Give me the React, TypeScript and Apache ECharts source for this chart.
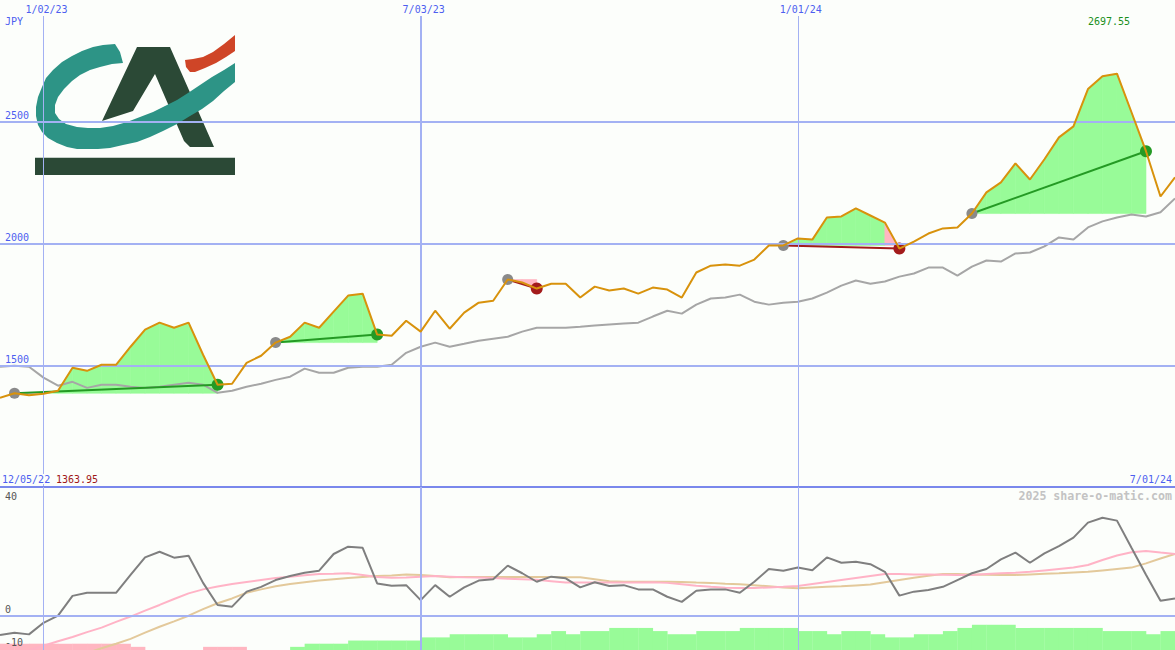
import React, { useEffect, useRef } from "react";
import * as echarts from "echarts";

// ---- axis ranges (weeks relative to 1/02/23) ----
const X_MIN = -3;
const X_MAX = 78;
const PRICE_MIN = 1000;
const PRICE_MAX = 3000;
const OSC_MIN = -12.12;
const OSC_MAX = 45.48;
const BAR_MAX = 51.7;

// ---- labels ----
const dateLabels = ["1/02/23", "7/03/23", "1/01/24"];
const dateWeeks = [0, 26, 52];
const firstDateLabel = "12/05/22";
const lastDateLabel = "7/01/24";
const currencyLabel = "JPY";
const priceTicks = [2500, 2000, 1500];
const oscTicks = [40, 0, -10];
const lowLabel = "1363.95";
const highLabel = "2697.55";
const creditLabel = "2025 share-o-matic.com";

// ---- weekly series, first value at week X_MIN ----
const price = [
  1366, 1385, 1377,
  1383, 1395, 1490, 1477, 1502, 1502, 1576, 1646, 1675, 1654,
  1675, 1543, 1420, 1424, 1510, 1539, 1593, 1617, 1675, 1654,
  1720, 1786, 1794, 1626, 1621, 1683, 1638, 1724, 1650, 1716,
  1757, 1765, 1852, 1840, 1815, 1835, 1835, 1778, 1823, 1807,
  1815, 1794, 1819, 1811, 1778, 1881, 1909, 1914, 1909, 1934,
  1992, 1992, 2021, 2016, 2107, 2111, 2144, 2115, 2086, 1979,
  2008, 2041, 2062, 2066, 2123, 2210, 2251, 2329, 2263, 2346,
  2436, 2481, 2634, 2687, 2697.55, 2539, 2379, 2193, 2272,
];
const benchmark = [
  1494, 1498, 1494,
  1449, 1416, 1432, 1407, 1420, 1420, 1412, 1407, 1412, 1420,
  1428, 1420, 1387, 1395, 1412, 1424, 1440, 1453, 1486, 1469,
  1469, 1490, 1494, 1494, 1502, 1551, 1576, 1593, 1576, 1588,
  1601, 1609, 1617, 1638, 1654, 1654, 1654, 1658, 1663, 1667,
  1671, 1675, 1700, 1724, 1712, 1749, 1774, 1778, 1790, 1761,
  1749, 1757, 1761, 1774, 1798, 1827, 1848, 1835, 1844, 1864,
  1877, 1901, 1901, 1868, 1905, 1930, 1926, 1959, 1963, 1988,
  2025, 2016, 2066, 2091, 2107, 2119, 2111, 2128, 2185,
];
const oscillator = [
  -6.8, -6.0, -6.6,
  -2.5, 0, 7.0, 8.1, 8.1, 8.1, 14.4, 20.6, 22.6, 20.5,
  21.2, 11.6, 3.8, 3.2, 8.5, 10.2, 12.6, 14.0, 15.2, 15.9,
  21.8, 24.4, 24.0, 11.4, 10.6, 10.8, 5.5, 10.8, 6.7, 10.0,
  12.4, 12.9, 17.7, 15.0, 12.0, 13.8, 13.2, 10.0, 11.8, 10.5,
  10.8, 9.3, 9.3, 6.7, 4.9, 8.8, 9.3, 9.3, 8.1, 12.0,
  16.5, 15.9, 17.0, 16.1, 20.6, 18.7, 19.1, 18.2, 15.5, 7.1,
  8.5, 9.1, 10.2, 12.6, 15.0, 16.5, 19.9, 22.3, 18.7, 22.0,
  24.6, 27.6, 32.9, 34.6, 33.6, 24.0, 14.5, 5.3, 6.1,
];
const oscFast = [
  -15.3, -14.0, -12.3,
  -10.6, -9.0, -7.5, -5.8, -4.2, -2.2, -0.3, 1.8, 3.8, 5.9,
  7.9, 9.3, 10.3, 11.2, 11.9, 12.6, 13.3, 13.8, 14.3, 14.7,
  14.8, 15.0, 14.4, 13.7, 13.4, 13.5, 13.8, 14.0, 13.8, 13.6,
  13.5, 13.3, 13.1, 12.9, 12.7, 12.2, 11.7, 11.7, 11.7, 11.7,
  11.7, 11.7, 11.8, 11.6, 11.1, 10.6, 10.2, 9.9, 9.8, 9.8,
  10.0, 10.2, 10.5, 11.2, 11.9, 12.6, 13.3, 14.0, 14.7, 14.7,
  14.6, 14.6, 14.5, 14.4, 14.4, 14.7, 15.0, 15.2, 15.5, 16.0,
  16.5, 17.0, 17.9, 19.7, 21.3, 22.4, 22.9, 22.3, 21.8,
];
const oscSlow = [
  -23.5, -21.8, -20.1,
  -18.4, -16.7, -14.9, -13.2, -11.5, -9.9, -8.2, -6.0, -3.9, -2.0,
  0.0, 2.3, 4.4, 6.1, 8.1, 9.3, 10.4, 11.2, 11.8, 12.4,
  12.9, 13.3, 13.7, 14.0, 14.2, 14.6, 14.4, 14.0, 13.6, 13.7,
  13.7, 13.7, 13.7, 13.7, 13.7, 13.7, 13.6, 13.6, 12.9, 12.2,
  12.0, 12.0, 12.0, 12.0, 11.9, 11.7, 11.6, 11.3, 11.1, 10.8,
  10.4, 10.0, 9.7, 10.0, 10.2, 10.4, 10.7, 11.0, 11.8, 12.6,
  13.4, 14.1, 14.7, 14.7, 14.6, 14.5, 14.4, 14.4, 14.6, 14.8,
  15.0, 15.3, 15.5, 16.0, 16.5, 17.0, 18.5, 20.2, 21.8,
];
// one level per week interval [w, w+1], first at X_MIN; negative = pink
const barLevels = [
  -2, -2, -2, -2, -2, -2, -2, -2, -2,
  -1, 0, 0, 0, 0, -1, -1, -1, 0, 0, 0,
  1, 2, 2, 2, 3, 3, 3, 3, 3, 4, 4, 5, 5, 5, 5, 4, 4,
  5, 6, 5, 6, 6, 7, 7, 7, 6, 5, 5, 6, 6, 6, 7, 7, 7, 7,
  6, 6, 5, 6, 6, 5, 4, 4, 5, 5, 6, 7, 8, 8, 8,
  7, 7, 7, 7, 7, 7, 6, 6, 6, 5, 6,
];
const tradeEntryWeeks = [-2, 16, 32, 51, 64];
const tradeExitWeeks = [12, 23, 34, 59, 76];

// ---- colours ----
const BG = "#fcfefb";
const GRID = "#a3b1f3";
const SEP = "#7a88ec";
const BLUE = "#4d5ef0";
const ORANGE = "#d8920c";
const BENCH = "#a6a6a6";
const OSC = "#7f7f7f";
const FAST = "#ffb3c6";
const SLOW = "#e3c99b";
const GAIN_FILL = "#98fb98";
const LOSS_FILL = "#ffb6c1";
const GAIN = "#249a24";
const LOSS = "#a31b1b";
const ENTRY = "#8a8a8a";
const FONT = '"DejaVu Sans Mono", monospace';

const MAIN_H = 487;
const TOTAL_H = 650;

const pts = (arr: number[]) => arr.map((v, i) => [X_MIN + i, v]);
const priceAt = (w: number) => price[w - X_MIN];

function buildOption(): any {
  const fillData: number[][] = [];
  tradeEntryWeeks.forEach((we, t) => {
    const wx = tradeExitWeeks[t];
    const lvl = priceAt(we);
    for (let w = we; w < wx; w++) {
      const p1 = priceAt(w + 1);
      fillData.push([w, priceAt(w), p1, lvl, p1 >= lvl ? 1 : 0]);
    }
  });
  const tradeData = tradeEntryWeeks.map((we, t) => {
    const wx = tradeExitWeeks[t];
    return [we, priceAt(we), wx, priceAt(wx), priceAt(wx) >= priceAt(we) ? 1 : 0];
  });
  const topVal = PRICE_MAX - (16 * (PRICE_MAX - PRICE_MIN)) / MAIN_H;

  const mainLines: any[] = [];
  priceTicks.forEach((v) => {
    const ls = { color: GRID, width: 2, type: "solid" };
    mainLines.push([{ coord: [X_MIN, v], lineStyle: ls }, { coord: [X_MAX, v], lineStyle: ls }]);
  });
  dateWeeks.forEach((w, i) => {
    const ls = { color: GRID, width: i === 1 ? 2 : 1, type: "solid" };
    mainLines.push([{ coord: [w, topVal], lineStyle: ls }, { coord: [w, PRICE_MIN], lineStyle: ls }]);
  });
  const sepLs = { color: SEP, width: 2, type: "solid" };
  mainLines.push([{ coord: [X_MIN, PRICE_MIN], lineStyle: sepLs }, { coord: [X_MAX, PRICE_MIN], lineStyle: sepLs }]);

  const lowerLines: any[] = [];
  const zeroLs = { color: GRID, width: 2, type: "solid" };
  lowerLines.push([{ coord: [X_MIN, 0], lineStyle: zeroLs }, { coord: [X_MAX, 0], lineStyle: zeroLs }]);
  dateWeeks.forEach((w, i) => {
    const ls = { color: GRID, width: i === 1 ? 2 : 1, type: "solid" };
    lowerLines.push([{ coord: [w, OSC_MIN], lineStyle: ls }, { coord: [w, OSC_MAX], lineStyle: ls }]);
  });

  const lineSeries = (name: string, data: number[], color: string, grid: number, z: number) => ({
    name,
    type: "line",
    xAxisIndex: grid,
    yAxisIndex: grid,
    data: pts(data),
    symbol: "none",
    showSymbol: false,
    silent: true,
    z,
    lineStyle: { color, width: 2 },
    emphasis: { disabled: true },
  });

  return {
    animation: false,
    backgroundColor: BG,
    grid: [
      { left: 0, right: 0, top: 0, height: MAIN_H },
      { left: 0, right: 0, top: MAIN_H, height: TOTAL_H - MAIN_H },
    ],
    xAxis: [
      { type: "value", gridIndex: 0, min: X_MIN, max: X_MAX, show: false },
      { type: "value", gridIndex: 1, min: X_MIN, max: X_MAX, show: false },
    ],
    yAxis: [
      { type: "value", gridIndex: 0, min: PRICE_MIN, max: PRICE_MAX, show: false },
      { type: "value", gridIndex: 1, min: OSC_MIN, max: OSC_MAX, show: false },
      { type: "value", gridIndex: 1, min: 0, max: BAR_MAX, show: false },
    ],
    series: [
      {
        type: "line",
        xAxisIndex: 0,
        yAxisIndex: 0,
        data: [[X_MIN, PRICE_MIN]],
        symbol: "none",
        lineStyle: { opacity: 0 },
        silent: true,
        z: 1,
        markLine: {
          silent: true,
          symbol: ["none", "none"],
          label: { show: false },
          emphasis: { disabled: true },
          animation: false,
          data: mainLines,
        },
      },
      {
        type: "line",
        xAxisIndex: 1,
        yAxisIndex: 1,
        data: [[X_MIN, 0]],
        symbol: "none",
        lineStyle: { opacity: 0 },
        silent: true,
        z: 1,
        markLine: {
          silent: true,
          symbol: ["none", "none"],
          label: { show: false },
          emphasis: { disabled: true },
          animation: false,
          data: lowerLines,
        },
      },
      {
        type: "custom",
        xAxisIndex: 0,
        yAxisIndex: 0,
        z: 2,
        silent: true,
        data: fillData,
        renderItem: (_p: any, api: any) => {
          const w = api.value(0);
          const p0 = api.value(1);
          const p1 = api.value(2);
          const lvl = api.value(3);
          const up = api.value(4);
          const c = up ? GAIN_FILL : LOSS_FILL;
          return {
            type: "polygon",
            shape: {
              points: [api.coord([w, lvl]), api.coord([w, p0]), api.coord([w + 1, p1]), api.coord([w + 1, lvl])],
            },
            style: { fill: c, stroke: c, lineWidth: 0.6 },
          };
        },
      },
      {
        type: "custom",
        xAxisIndex: 1,
        yAxisIndex: 2,
        z: 2,
        silent: true,
        data: barLevels.map((lv, i) => [X_MIN + i, lv]),
        renderItem: (_p: any, api: any) => {
          const w = api.value(0);
          const lv = api.value(1);
          if (!lv) return { type: "group", children: [] };
          const a = api.coord([w, 0]);
          const b = api.coord([w + 1, Math.abs(lv)]);
          const c = lv > 0 ? GAIN_FILL : LOSS_FILL;
          return {
            type: "rect",
            shape: { x: a[0], y: b[1], width: b[0] - a[0] + 0.3, height: a[1] - b[1] },
            style: { fill: c },
          };
        },
      },
      lineSeries("benchmark", benchmark, BENCH, 0, 3),
      lineSeries("slow", oscSlow, SLOW, 1, 3),
      lineSeries("fast", oscFast, FAST, 1, 3),
      lineSeries("oscillator", oscillator, OSC, 1, 4),
      {
        type: "custom",
        xAxisIndex: 0,
        yAxisIndex: 0,
        z: 4,
        silent: true,
        data: tradeData,
        renderItem: (_p: any, api: any) => {
          const a = api.coord([api.value(0), api.value(1)]);
          const b = api.coord([api.value(2), api.value(3)]);
          const up = api.value(4);
          return {
            type: "group",
            children: [
              { type: "line", shape: { x1: a[0], y1: a[1], x2: b[0], y2: b[1] }, style: { stroke: up ? GAIN : LOSS, lineWidth: 2 } },
              { type: "circle", shape: { cx: a[0], cy: a[1], r: 5.5 }, style: { fill: ENTRY } },
              { type: "circle", shape: { cx: b[0], cy: b[1], r: 6 }, style: { fill: up ? GAIN : LOSS } },
            ],
          };
        },
      },
      lineSeries("price", price, ORANGE, 0, 5),
    ],
  };
}

function txt(text: string, x: number, y: number, fill: string, align = "left", extra: any = {}) {
  return {
    type: "text",
    z: 100,
    silent: true,
    style: {
      text,
      x,
      y,
      fill,
      fontFamily: FONT,
      fontSize: 10,
      align,
      textAlign: align,
      verticalAlign: "middle",
      textVerticalAlign: "middle",
      ...extra,
    },
  };
}

function buildGraphic(chart: any): any[] {
  const pMain = (w: number, v: number) => chart.convertToPixel({ xAxisIndex: 0, yAxisIndex: 0 }, [w, v]) as number[];
  const pOsc = (w: number, v: number) => chart.convertToPixel({ xAxisIndex: 1, yAxisIndex: 1 }, [w, v]) as number[];
  const out: any[] = [];

  // logo
  const teal = [
    [115, 44], [103, 45], [93, 47], [82, 51], [72, 56], [62, 62], [53, 70], [46, 78], [42, 87], [38, 97],
    [36, 107], [36, 116], [38, 125], [42, 132], [48, 138], [57, 143], [67, 147], [77, 149], [87, 149],
    [98, 149], [110, 148], [123, 145], [137, 142], [150, 137], [163, 131], [177, 124], [190, 116],
    [202, 109], [213, 101], [224, 91], [235, 82],
    [235, 63], [224, 70], [212, 77], [200, 85], [188, 93], [177, 100], [165, 106], [153, 112], [140, 117],
    [127, 122], [113, 126], [100, 128], [88, 128], [77, 127], [66, 124], [59, 119], [55, 113], [55, 105],
    [58, 97], [64, 89], [72, 81], [80, 75], [90, 70], [100, 67], [112, 64], [123, 63], [120, 52],
  ];
  const letterA = [[137, 47], [170, 47], [214, 147], [190, 147], [184, 141], [155, 74], [133, 111], [102, 121]];
  const red = [[185, 60], [193, 59], [203, 57], [213, 52], [224, 44], [235, 35], [235, 51], [226, 57], [216, 63], [205, 68], [195, 72], [190, 72], [186, 67]];
  out.push({
    type: "group",
    z: 100,
    silent: true,
    children: [
      { type: "rect", shape: { x: 35, y: 35, width: 200, height: 140 }, style: { fill: BG } },
      { type: "polygon", shape: { points: letterA }, style: { fill: "#2b4936" } },
      { type: "polygon", shape: { points: red }, style: { fill: "#cf4527" } },
      { type: "polygon", shape: { points: teal }, style: { fill: "#2d9486" } },
      { type: "rect", shape: { x: 35, y: 157, width: 200, height: 1 }, style: { fill: "#c5d0c9" } },
      { type: "rect", shape: { x: 35, y: 158, width: 200, height: 17 }, style: { fill: "#2b4936" } },
    ],
  });

  dateLabels.forEach((t, i) => {
    out.push(txt(t, pMain(dateWeeks[i], PRICE_MAX)[0] + 3, 9, BLUE, "center"));
  });
  out.push(txt(currencyLabel, 5, 21, BLUE));
  priceTicks.forEach((v) => out.push(txt(String(v), 5, pMain(0, v)[1] - 6, BLUE)));
  oscTicks.forEach((v) => {
    const y = pOsc(0, v)[1] - 6;
    out.push(txt(String(v), 5, y > TOTAL_H - 20 ? TOTAL_H - 8 : y, "#555555"));
  });
  out.push(txt(highLabel, 1088, 21, "#1b8f1b"));
  out.push(txt(firstDateLabel, 2, 479, BLUE, "left", { backgroundColor: BG }));
  out.push(txt(lowLabel, 56, 479, "#a01818"));
  out.push(txt(lastDateLabel, 1172, 479, BLUE, "right"));
  out.push(txt(creditLabel, 1172, 496, "#c3c3c3", "right", { fontSize: 11.6, fontWeight: "bold" }));
  return out;
}

export default function App() {
  const ref = useRef<HTMLDivElement>(null);
  useEffect(() => {
    document.body.style.margin = "0";
    const el = ref.current as HTMLDivElement;
    const chart = echarts.init(el, null, { renderer: "svg" });
    chart.setOption(buildOption());
    chart.setOption({ graphic: buildGraphic(chart) });
    return () => chart.dispose();
  }, []);
  return <div ref={ref} style={{ width: 1175, height: 650, background: BG }} />;
}
